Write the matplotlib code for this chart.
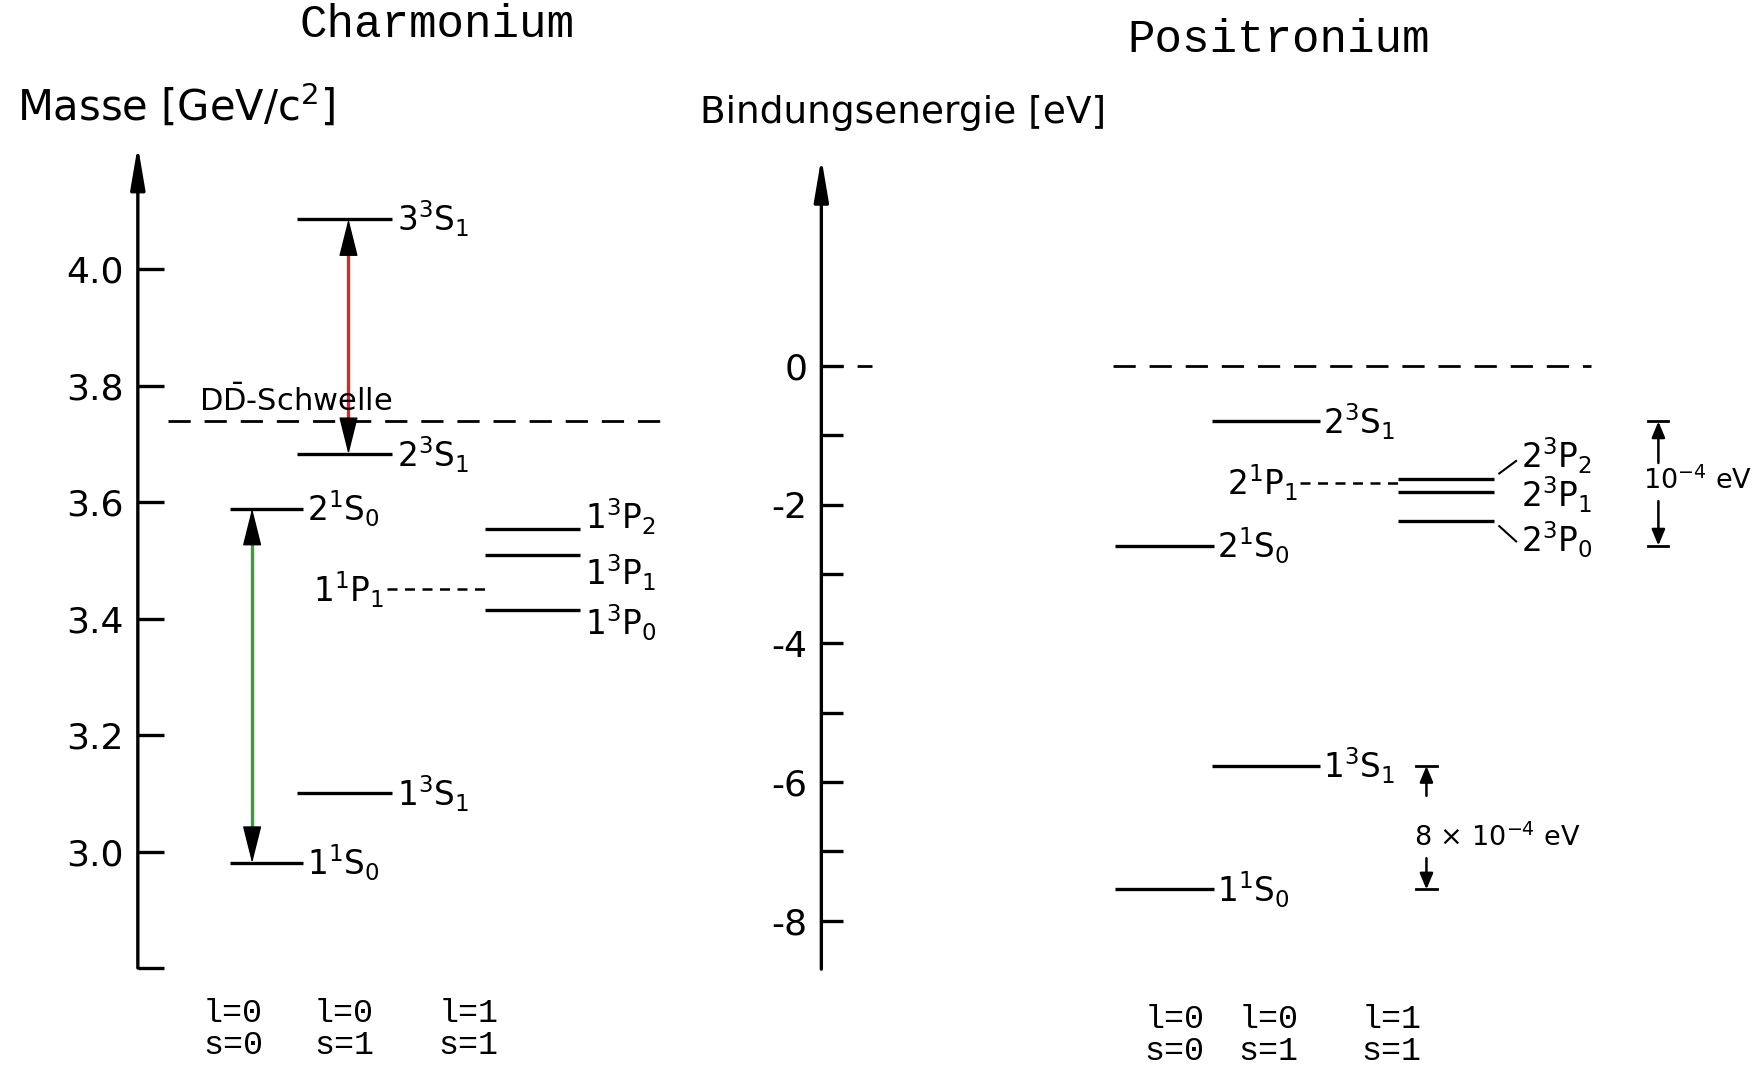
import matplotlib.pyplot as plt

plt.rcParams['font.family'] = ['DejaVu Sans']
plt.rcParams['mathtext.default'] = 'regular'

# ---- data: charmonium (mass in GeV/c^2) ----
charm_names = ['1^1S_0', '1^3S_1', '2^1S_0', '2^3S_1', '3^3S_1', '1^3P_0', '1^3P_1', '1^3P_2']
charm_mass = [2.980, 3.100, 3.589, 3.682, 4.086, 3.414, 3.509, 3.553]
charm_col = [0, 1, 0, 1, 1, 2, 2, 2]
charm_1p1 = 3.450
charm_dd = 3.739
charm_ticks = [3.0, 3.2, 3.4, 3.6, 3.8, 4.0]
charm_ticklabels = ['3.0', '3.2', '3.4', '3.6', '3.8', '4.0']
# transitions: (lower index, upper index, colour)
charm_trans = [(3, 4, '#d42a2a'), (0, 2, '#38a038')]

# ---- data: positronium (binding energy, schematic) ----
pos_names = ['1^1S_0', '1^3S_1', '2^1S_0', '2^3S_1', '2^3P_0', '2^3P_1', '2^3P_2']
pos_energy = [-7.55, -5.77, -2.59, -0.80, -2.23, -1.82, -1.63]
pos_col = [0, 1, 0, 1, 2, 2, 2]
pos_2p1 = -1.69
pos_ticks = [0, -2, -4, -6, -8]
pos_ticklabels = ['0', '-2', '-4', '-6', '-8']
pos_minor = [-1, -3, -5, -7]

col_labels = ['l=0\ns=0', 'l=0\ns=1', 'l=1\ns=1']

W, H = 1757, 1070
sx, sy = W / 1568, H / 955
fig = plt.figure(figsize=(W / 100, H / 100), dpi=100)
mono = ['Liberation Mono', 'DejaVu Sans Mono']


def add_ax(x0, x1, ytop, ybot):
    return fig.add_axes([x0 * sx / W, 1 - ybot * sy / H,
                         (x1 - x0) * sx / W, (ybot - ytop) * sy / H])


def axis_setup(ax, xlim, ylim, ticks, labels, ticklen):
    ax.set_xlim(*xlim)
    ax.set_ylim(*ylim)
    for s in ax.spines.values():
        s.set_visible(False)
    ax.set_xticks([])
    ax.set_yticks(ticks)
    ax.set_yticklabels(labels)
    ax.tick_params(axis='y', direction='in', length=ticklen, width=2.4,
                   labelsize=26, pad=10)
    ax.annotate('', xy=(xlim[0], ylim[1]), xytext=(xlim[0], ylim[0]),
                arrowprops=dict(arrowstyle='-|>,head_length=1.3,head_width=0.22',
                                mutation_scale=20, color='k', lw=2.4,
                                shrinkA=0, shrinkB=0),
                annotation_clip=False)


def lab(s):
    return '$' + s.replace('^', '^{').replace('S_', '}S_').replace('P_', '}P_') + '$'


def head(ax, x, y, d):
    ax.annotate('', xy=(x, y), xytext=(x, y - d),
                arrowprops=dict(arrowstyle='-|>,head_length=1.2,head_width=0.3',
                                mutation_scale=20, color='k', lw=1,
                                shrinkA=0, shrinkB=0))


lw_level = 2.4
fs_lab = 23.5

# ================= Charmonium =================
ax1 = add_ax(123, 640, 130, 864)
axis_setup(ax1, (123, 640), (2.80, 4.212), [2.80] + charm_ticks, [''] + charm_ticklabels, 19)

c_x0 = [205, 265, 433]
c_x1 = [270, 350, 518]
c_dy = {'1^3P_2': 0.022, '1^3P_1': -0.03, '1^3P_0': -0.022}
for n, m, c in zip(charm_names, charm_mass, charm_col):
    ax1.plot([c_x0[c], c_x1[c]], [m, m], color='k', lw=lw_level, solid_capstyle='butt')
    ax1.text(c_x1[c] + 4, m + c_dy.get(n, 0), lab(n), fontsize=fs_lab,
             ha='left', va='center')
ax1.plot([345, c_x0[2]], [charm_1p1, charm_1p1], color='k', lw=1.8, dashes=(4, 3))
ax1.text(343, charm_1p1, lab('1^1P_1'), fontsize=fs_lab, ha='right', va='center')

ax1.plot([150, 600], [charm_dd, charm_dd], color='k', lw=2, dashes=(8, 5))
ax1.text(178, charm_dd + 0.034, r'$D\bar{D}$-Schwelle', fontsize=22, ha='left', va='center')

for x, (lo, hi, colr) in zip([311, 225], charm_trans):
    ylo, yhi = charm_mass[lo], charm_mass[hi]
    ax1.plot([x, x], [ylo + 0.03, yhi - 0.03], color=colr, lw=2.4)
    head(ax1, x, yhi, 0.06)
    head(ax1, x, ylo, -0.06)

for x, t in zip([208, 307, 418], col_labels):
    ax1.text(x, 2.695, t, fontsize=24, family=mono, ha='center', va='center',
             linespacing=1.05)

# ================= Positronium =================
ax2 = add_ax(733, 1568, 141, 865)
axis_setup(ax2, (733, 1568), (-8.70, 3.0), pos_ticks, pos_ticklabels, 16)
ax2.set_yticks(pos_minor, minor=True)
ax2.tick_params(axis='y', which='minor', direction='in', length=16, width=2.4)

p_x0 = [995, 1082, 1248]
p_x1 = [1083, 1178, 1333]
p_dy = {'2^3P_2': 0.34, '2^3P_1': -0.04, '2^3P_0': -0.27}
for n, e, c in zip(pos_names, pos_energy, pos_col):
    ax2.plot([p_x0[c], p_x1[c]], [e, e], color='k', lw=lw_level, solid_capstyle='butt')
    gap = 24 if c == 2 else 3
    ax2.text(p_x1[c] + gap, e + p_dy.get(n, 0), lab(n), fontsize=fs_lab,
             ha='left', va='center')
ax2.plot([1338, 1353], [pos_energy[6] + 0.08, pos_energy[6] + 0.26], color='k', lw=1.5)
ax2.plot([1338, 1353], [pos_energy[4] - 0.08, pos_energy[4] - 0.3], color='k', lw=1.5)
ax2.plot([1160, p_x0[2]], [pos_2p1, pos_2p1], color='k', lw=1.8, dashes=(4, 3))
ax2.text(1158, pos_2p1, lab('2^1P_1'), fontsize=fs_lab, ha='right', va='center')

ax2.plot([993, 1420], [0, 0], color='k', lw=2, dashes=(8, 5))
ax2.plot([733, 778], [0, 0], color='k', lw=2, dashes=(8, 5))


def scale_bar(x, top, bot, stem_top, stem_bot, text, tx, ty):
    for y in (top, bot):
        ax2.plot([x - 9, x + 9], [y, y], color='k', lw=2)
    for y0, y1 in ((stem_top, top), (stem_bot, bot)):
        ax2.annotate('', xy=(x, y1), xytext=(x, y0),
                     arrowprops=dict(arrowstyle='-|>,head_length=0.6,head_width=0.25',
                                     mutation_scale=16, color='k', lw=1.8,
                                     shrinkA=0, shrinkB=0))
    ax2.text(tx, ty, text, fontsize=19.5, ha='left', va='center')


scale_bar(1480, pos_energy[3], pos_energy[2], -1.40, -1.95, r'$10^{-4}$ eV', 1466, -1.66)
scale_bar(1273, pos_energy[1], pos_energy[0], -6.20, -7.10, r'8 × $10^{-4}$ eV', 1262, -6.81)

for x, t in zip([1048, 1132, 1242], col_labels):
    ax2.text(x, -9.66, t, fontsize=24, family=mono, ha='center', va='center',
             linespacing=1.05)

# ---- titles and axis names ----
fig.text(390 / 1568, 1 - 22 / 955, 'Charmonium', fontsize=33, family=mono,
         ha='center', va='center')
fig.text(1141 / 1568, 1 - 36 / 955, 'Positronium', fontsize=33, family=mono,
         ha='center', va='center')
fig.text(15 / 1568, 1 - 95 / 955, r'Masse [GeV/c$^2$]', fontsize=30,
         ha='left', va='center')
fig.text(625 / 1568, 1 - 101 / 955, 'Bindungsenergie [eV]', fontsize=27,
         ha='left', va='center')

fig.savefig('out.png', dpi=100, facecolor='white')
